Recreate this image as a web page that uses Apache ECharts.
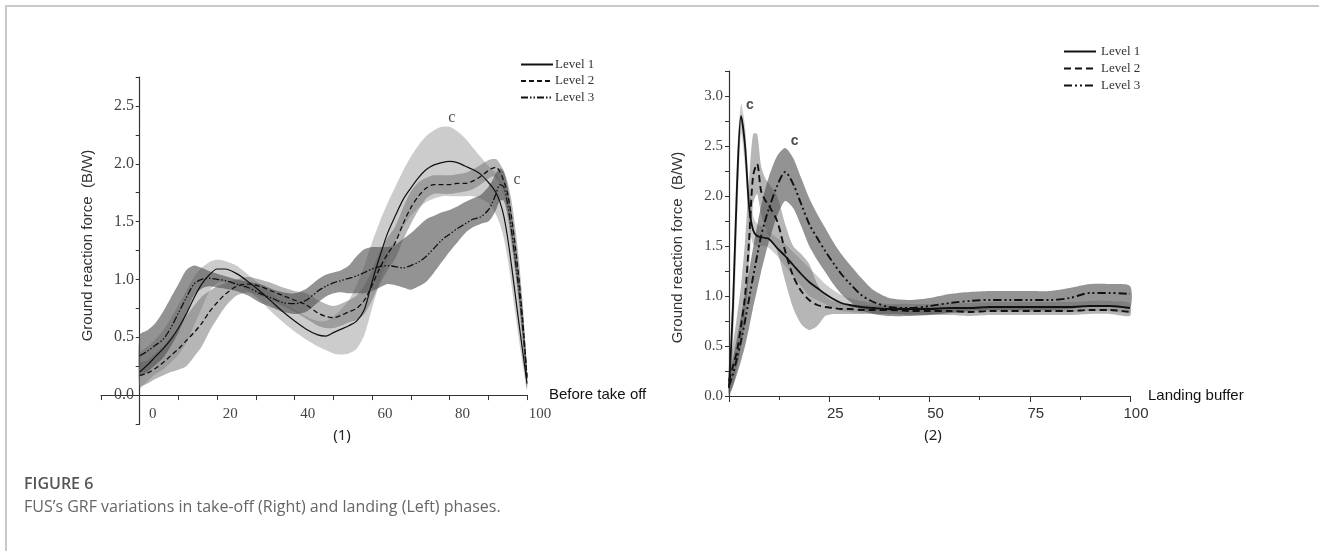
<!DOCTYPE html>
<html>
<head>
<meta charset="utf-8">
<script src="https://cdn.jsdelivr.net/npm/echarts@6/dist/echarts.min.js"></script>
<style>
  html, body { margin: 0; padding: 0; background: #fff; }
  #frame {
    position: absolute; left: 5px; top: 5px; right: 0; bottom: 0;
    border-left: 2px solid #c9c9c9; border-top: 2px solid #c9c9c9;
  }
  #chart { position: absolute; left: 0; top: 0; width: 1319px; height: 551px; }
</style>
</head>
<body>
<div id="frame"></div>
<div id="chart"></div>
<script>
// (1) before take off
const xTake = [0,2,4,6,8,10,12,14,16,18,20,22,25,28,31,34,37,40,43,46,48,50,52,54,56,58,60,62,64,66,68,70,72,74,76,78,80,82,84,86,88,90,91,92,93,94,95,96,97,98,99,100]
const take1 = [0.20,0.26,0.33,0.40,0.48,0.58,0.70,0.84,0.96,1.04,1.09,1.09,1.05,0.98,0.90,0.81,0.72,0.64,0.57,0.52,0.51,0.54,0.57,0.60,0.64,0.74,0.98,1.20,1.40,1.55,1.69,1.79,1.88,1.95,1.99,2.01,2.02,2.01,1.98,1.95,1.91,1.84,1.80,1.75,1.67,1.55,1.36,1.12,0.86,0.60,0.35,0.10]
const take1Lo = [0.06,0.12,0.18,0.22,0.28,0.35,0.45,0.60,0.75,0.90,0.97,0.98,0.96,0.90,0.82,0.72,0.63,0.55,0.48,0.42,0.39,0.36,0.35,0.36,0.40,0.52,0.75,0.98,1.18,1.33,1.45,1.55,1.62,1.67,1.70,1.72,1.72,1.72,1.72,1.72,1.70,1.66,1.62,1.56,1.48,1.36,1.18,0.95,0.70,0.46,0.24,0.04]
const take1Hi = [0.36,0.42,0.48,0.56,0.66,0.78,0.90,1.02,1.10,1.15,1.17,1.16,1.12,1.04,0.96,0.88,0.80,0.74,0.68,0.64,0.64,0.68,0.74,0.82,0.95,1.12,1.32,1.50,1.66,1.80,1.94,2.06,2.16,2.24,2.29,2.32,2.32,2.28,2.22,2.14,2.06,1.98,1.95,1.92,1.84,1.72,1.54,1.30,1.02,0.76,0.48,0.16]
const take2 = [0.17,0.19,0.23,0.28,0.34,0.40,0.47,0.54,0.62,0.72,0.80,0.87,0.94,0.96,0.94,0.90,0.86,0.82,0.78,0.71,0.68,0.67,0.69,0.72,0.75,0.82,0.95,1.10,1.22,1.32,1.48,1.62,1.72,1.79,1.82,1.82,1.82,1.83,1.83,1.85,1.89,1.94,1.96,1.97,1.93,1.85,1.74,1.54,1.28,0.98,0.60,0.14]
const take2Lo = [0.08,0.10,0.14,0.17,0.20,0.22,0.25,0.33,0.42,0.55,0.66,0.76,0.86,0.89,0.86,0.82,0.77,0.72,0.66,0.60,0.58,0.58,0.60,0.63,0.65,0.70,0.82,0.96,1.08,1.18,1.34,1.48,1.60,1.70,1.74,1.74,1.74,1.75,1.76,1.78,1.82,1.87,1.89,1.88,1.82,1.72,1.58,1.36,1.10,0.82,0.46,0.06]
const take2Hi = [0.28,0.30,0.36,0.42,0.50,0.58,0.68,0.77,0.85,0.90,0.94,0.97,1.00,1.02,1.00,0.97,0.93,0.90,0.88,0.82,0.79,0.77,0.79,0.82,0.86,0.95,1.08,1.24,1.36,1.46,1.62,1.76,1.84,1.88,1.90,1.90,1.90,1.91,1.92,1.95,1.99,2.03,2.04,2.04,2.00,1.94,1.84,1.68,1.44,1.14,0.74,0.22]
const take3 = [0.34,0.38,0.43,0.48,0.58,0.71,0.84,0.96,1.00,1.01,1.00,0.99,0.96,0.93,0.88,0.84,0.80,0.79,0.82,0.90,0.94,0.97,0.99,1.01,1.03,1.06,1.09,1.11,1.12,1.11,1.10,1.12,1.15,1.20,1.27,1.34,1.39,1.44,1.48,1.52,1.54,1.60,1.66,1.74,1.82,1.80,1.65,1.42,1.16,0.88,0.55,0.16]
const take3Lo = [0.17,0.20,0.26,0.32,0.42,0.54,0.70,0.86,0.92,0.94,0.93,0.92,0.90,0.86,0.80,0.76,0.72,0.70,0.72,0.80,0.85,0.88,0.89,0.88,0.88,0.88,0.90,0.93,0.96,0.95,0.93,0.91,0.94,0.98,1.06,1.15,1.24,1.32,1.40,1.45,1.48,1.50,1.54,1.60,1.68,1.68,1.54,1.30,1.04,0.76,0.44,0.06]
const take3Hi = [0.52,0.56,0.62,0.72,0.84,0.96,1.08,1.12,1.10,1.07,1.05,1.03,1.00,0.98,0.96,0.92,0.89,0.88,0.92,1.00,1.04,1.06,1.08,1.12,1.20,1.26,1.28,1.28,1.28,1.30,1.35,1.40,1.46,1.52,1.55,1.58,1.60,1.63,1.67,1.70,1.73,1.80,1.85,1.92,1.96,1.93,1.80,1.58,1.32,1.02,0.68,0.24]

// (2) landing buffer
const xLand = [0,1,2,3,4,5,6,7,8,9,10,12,14,16,18,20,22,24,26,28,30,33,36,40,45,50,55,60,65,70,75,80,85,90,95,100]
const land1 = [0.08,0.90,2.10,2.80,2.50,1.90,1.66,1.60,1.59,1.58,1.57,1.48,1.40,1.31,1.22,1.14,1.08,1.02,0.97,0.93,0.91,0.89,0.88,0.87,0.87,0.87,0.88,0.88,0.89,0.89,0.89,0.89,0.89,0.90,0.90,0.88]
const land1Lo = [0.00,0.50,1.70,2.62,2.30,1.70,1.52,1.50,1.50,1.50,1.48,1.40,1.30,1.20,1.10,1.00,0.96,0.92,0.88,0.85,0.84,0.83,0.83,0.82,0.82,0.82,0.83,0.83,0.84,0.84,0.84,0.84,0.84,0.85,0.85,0.83]
const land1Hi = [0.20,1.20,2.40,2.92,2.70,2.10,1.80,1.72,1.70,1.66,1.64,1.58,1.52,1.44,1.36,1.28,1.20,1.12,1.06,1.01,0.98,0.95,0.93,0.92,0.92,0.92,0.93,0.93,0.94,0.94,0.94,0.94,0.94,0.95,0.95,0.93]
const land2 = [0.15,0.30,0.45,0.70,1.00,1.55,2.20,2.32,2.05,1.96,1.90,1.75,1.45,1.20,1.05,0.96,0.91,0.89,0.88,0.87,0.87,0.86,0.86,0.86,0.85,0.85,0.85,0.84,0.85,0.85,0.85,0.85,0.85,0.86,0.86,0.84]
const land2Lo = [0.00,0.10,0.28,0.48,0.75,1.25,1.92,2.02,1.82,1.68,1.60,1.45,1.15,0.88,0.72,0.66,0.70,0.80,0.82,0.82,0.82,0.82,0.82,0.82,0.81,0.81,0.81,0.80,0.81,0.81,0.81,0.81,0.81,0.82,0.82,0.80]
const land2Hi = [0.32,0.52,0.80,1.10,1.55,2.15,2.62,2.62,2.30,2.18,2.12,2.00,1.72,1.50,1.42,1.32,1.12,1.00,0.95,0.93,0.92,0.91,0.90,0.90,0.89,0.89,0.89,0.88,0.89,0.89,0.89,0.89,0.89,0.90,0.90,0.88]
const land3 = [0.10,0.22,0.38,0.55,0.75,0.97,1.19,1.40,1.60,1.75,1.88,2.10,2.24,2.12,1.92,1.72,1.58,1.45,1.33,1.22,1.13,1.01,0.94,0.89,0.88,0.90,0.93,0.95,0.96,0.96,0.96,0.96,0.98,1.03,1.03,1.02]
const land3Lo = [0.02,0.10,0.22,0.35,0.50,0.68,0.88,1.06,1.24,1.40,1.55,1.80,1.95,1.88,1.70,1.50,1.36,1.24,1.12,1.02,0.95,0.86,0.82,0.80,0.80,0.81,0.83,0.85,0.86,0.86,0.86,0.86,0.87,0.90,0.90,0.88]
const land3Hi = [0.20,0.38,0.58,0.80,1.02,1.25,1.48,1.70,1.90,2.06,2.20,2.40,2.48,2.38,2.18,1.98,1.82,1.68,1.54,1.42,1.32,1.18,1.06,0.98,0.96,0.98,1.02,1.04,1.05,1.05,1.05,1.05,1.08,1.12,1.12,1.10]

// peak markers "c"
const takeMarks = [[80.6, 2.40], [97.4, 1.86]]
const landMarks = [[5.2, 2.91], [16.4, 2.55]]

const levelNames = ['Level 1', 'Level 2', 'Level 3']
const bandColors = ['rgba(110,110,110,0.35)', 'rgba(110,110,110,0.5)', 'rgba(80,80,80,0.62)']

const chart = echarts.init(document.getElementById('chart'))

const pairs = (xs, ys) => xs.map((x, i) => [x, ys[i]])

// shaded band between lo and hi, drawn as one polygon through the axis scales
const band = (xs, lo, hi, color, gi) => ({
  type: 'custom', xAxisIndex: gi, yAxisIndex: gi, silent: true, z: 1,
  data: xs.map((x, i) => [x, lo[i], hi[i]]),
  encode: { x: 0, y: [1, 2] },
  renderItem: (params, api) => {
    if (params.dataIndex !== 0) return null
    const upper = xs.map((x, i) => api.coord([x, hi[i]]))
    const lower = xs.map((x, i) => api.coord([x, lo[i]])).reverse()
    return {
      type: 'polygon',
      shape: { points: upper.concat(lower), smooth: 0.25 },
      style: { fill: color }
    }
  }
})

const line = (name, xs, ys, gi, width, dash) => ({
  name: name, type: 'line', xAxisIndex: gi, yAxisIndex: gi, symbol: 'none',
  smooth: 0.3, z: 3,
  lineStyle: { color: '#111', width: width, type: dash },
  itemStyle: { color: '#111' },
  data: pairs(xs, ys)
})

const halfStep = v => v >= 0 && Math.abs(v * 2 - Math.round(v * 2)) < 1e-6

const option = {
  animation: false,
  grid: [
    { left: 101, top: 77, width: 426, height: 347 },
    { left: 729, top: 71, width: 401, height: 325 }
  ],
  xAxis: [
    {
      gridIndex: 0, type: 'value', min: -10, max: 100, interval: 10,
      name: 'Before take off', nameLocation: 'end', nameGap: 22,
      nameTextStyle: { fontFamily: 'Liberation Sans', fontSize: 15, color: '#111' },
      axisLine: { onZero: true, lineStyle: { color: '#333', width: 1.2 } },
      axisTick: { length: 5, lineStyle: { color: '#333' } },
      axisLabel: {
        fontFamily: 'Liberation Serif', fontSize: 15, color: '#444', margin: -17,
        padding: [0, 0, 0, 26],
        formatter: v => (v >= 0 && v % 20 === 0) ? String(v) : ''
      },
      splitLine: { show: false }
    },
    {
      gridIndex: 1, type: 'value', min: 0, max: 100, interval: 25,
      name: 'Landing buffer', nameLocation: 'end', nameGap: 18,
      nameTextStyle: { fontFamily: 'Liberation Sans', fontSize: 15, color: '#111' },
      axisLine: { lineStyle: { color: '#333', width: 1.2 } },
      axisTick: { length: 6, lineStyle: { color: '#333' } },
      minorTick: { show: true, splitNumber: 2, length: 4, lineStyle: { color: '#333' } },
      axisLabel: {
        fontFamily: 'Liberation Sans', fontSize: 15, color: '#333', margin: 10,
        padding: [0, 0, 0, 12],
        formatter: v => v > 0 ? String(v) : ''
      },
      splitLine: { show: false }
    }
  ],
  yAxis: [
    {
      gridIndex: 0, type: 'value', min: -0.25, max: 2.75, interval: 0.25,
      name: 'Ground reaction force  (B/W)', nameLocation: 'middle', nameGap: 6,
      nameTextStyle: { fontFamily: 'Liberation Sans', fontSize: 15, color: '#333', padding: [0, 0, 0, 10] },
      axisLine: { show: true, onZero: true, lineStyle: { color: '#333', width: 1.2 } },
      axisTick: { show: true, length: 4, lineStyle: { color: '#333' } },
      axisLabel: {
        fontFamily: 'Liberation Serif', fontSize: 16, color: '#444', margin: -33,
        formatter: v => halfStep(v) ? v.toFixed(1) : ''
      },
      splitLine: { show: false }
    },
    {
      gridIndex: 1, type: 'value', min: 0, max: 3.25, interval: 0.25,
      name: 'Ground reaction force  (B/W)', nameLocation: 'middle', nameGap: 44,
      nameTextStyle: { fontFamily: 'Liberation Sans', fontSize: 15, color: '#333', padding: [0, 28, 0, 0] },
      axisLine: { show: true, lineStyle: { color: '#333', width: 1.2 } },
      axisTick: { show: true, length: 4, lineStyle: { color: '#333' } },
      axisLabel: {
        fontFamily: 'Liberation Serif', fontSize: 15, color: '#444', margin: 6,
        formatter: v => (halfStep(v) && v <= 3) ? v.toFixed(1) : ''
      },
      splitLine: { show: false }
    }
  ],
  legend: [
    {
      data: levelNames, orient: 'vertical', left: 520, top: 58, padding: 0,
      itemWidth: 32, itemHeight: 12, itemGap: 3.5,
      itemStyle: { opacity: 0 },
      textStyle: { fontFamily: 'Liberation Serif', fontSize: 13, color: '#333', padding: [0, 0, 0, -3] }
    },
    {
      data: levelNames.map(n => '(2) ' + n), orient: 'vertical', left: 1058, top: 40,
      itemWidth: 32, itemHeight: 12, itemGap: 4,
      itemStyle: { opacity: 0 },
      formatter: n => n.replace('(2) ', ''),
      textStyle: { fontFamily: 'Liberation Serif', fontSize: 13, color: '#333' }
    }
  ],
  series: [
    band(xTake, take1Lo, take1Hi, bandColors[0], 0),
    band(xTake, take2Lo, take2Hi, bandColors[1], 0),
    band(xTake, take3Lo, take3Hi, bandColors[2], 0),
    band(xLand, land1Lo, land1Hi, bandColors[0], 1),
    band(xLand, land2Lo, land2Hi, bandColors[1], 1),
    band(xLand, land3Lo, land3Hi, bandColors[2], 1),
    line('Level 1', xTake, take1, 0, 1.2, 'solid'),
    line('Level 2', xTake, take2, 0, 1.3, [5, 3]),
    line('Level 3', xTake, take3, 0, 1.3, [7, 2, 1.5, 2, 1.5, 2]),
    line('(2) Level 1', xLand, land1, 1, 1.8, 'solid'),
    line('(2) Level 2', xLand, land2, 1, 1.9, [7, 4]),
    line('(2) Level 3', xLand, land3, 1, 1.9, [8, 3, 2, 3, 2, 3]),
    {
      type: 'scatter', xAxisIndex: 0, yAxisIndex: 0, symbolSize: 1, z: 4,
      itemStyle: { color: 'transparent' },
      label: { show: true, position: 'inside', formatter: 'c', fontFamily: 'Liberation Serif', fontSize: 16, color: '#222' },
      data: takeMarks
    },
    {
      type: 'scatter', xAxisIndex: 1, yAxisIndex: 1, symbolSize: 1, z: 4,
      itemStyle: { color: 'transparent' },
      label: { show: true, position: 'inside', formatter: 'c', fontFamily: 'Liberation Sans', fontWeight: 'bold', fontSize: 14, color: '#222' },
      data: landMarks
    }
  ],
  graphic: [
    { type: 'text', x: 342, y: 436, style: { text: '(1)', align: 'center', verticalAlign: 'middle', font: '15px "Noto Sans"', fill: '#222' } },
    { type: 'text', x: 933, y: 436, style: { text: '(2)', align: 'center', verticalAlign: 'middle', font: '15px "Noto Sans"', fill: '#222' } },
    { type: 'text', x: 24, y: 484, style: { text: 'FIGURE 6', verticalAlign: 'middle', font: '600 16px "Open Sans"', fill: '#555' } },
    { type: 'text', x: 24, y: 507, style: { text: 'FUS\u2019s GRF variations in take-off (Right) and landing (Left) phases.', verticalAlign: 'middle', font: '16px "Open Sans"', fill: '#666' } }
  ]
}

chart.setOption(option)
window.addEventListener('resize', () => chart.resize())
</script>
</body>
</html>
